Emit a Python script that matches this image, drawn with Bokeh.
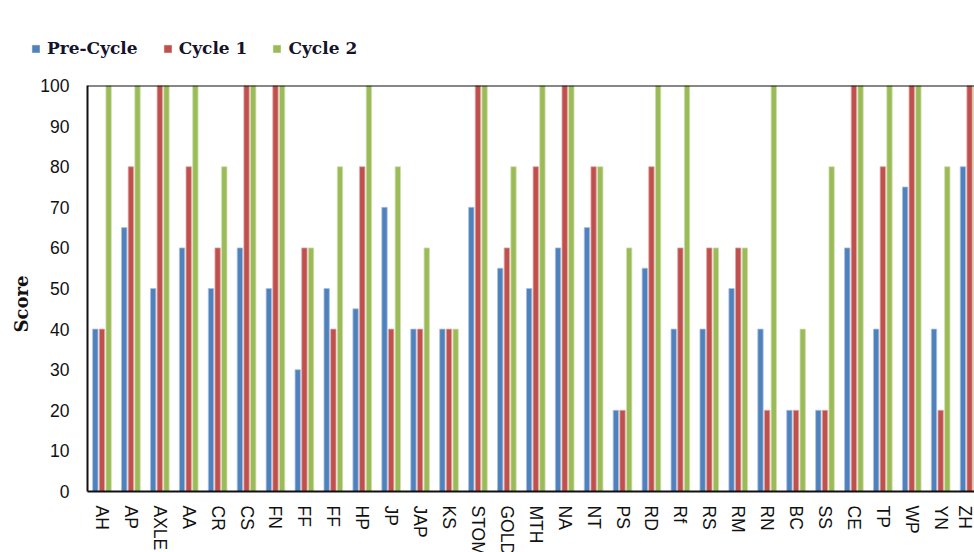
from bokeh.plotting import figure
from bokeh.layouts import column, row
from bokeh.models import Range1d, FixedTicker, Legend, LegendItem, Span, ColumnDataSource, Title
from bokeh.transform import dodge
from bokeh.embed import file_html
from bokeh.resources import INLINE

categories = ["AH", "AP", "AXLE", "AA", "CR", "CS", "FN", "FF", "FF", "HP",
              "JP", "JAP", "KS", "STOM", "GOLD", "MTH", "NA", "NT", "PS", "RD",
              "Rf", "RS", "RM", "RN", "BC", "SS", "CE", "TP", "WP", "YN", "ZH"]
pre_cycle = [40, 65, 50, 60, 50, 60, 50, 30, 50, 45,
             70, 40, 40, 70, 55, 50, 60, 65, 20, 55,
             40, 40, 50, 40, 20, 20, 60, 40, 75, 40, 80]
cycle_1 = [40, 80, 100, 80, 60, 100, 100, 60, 40, 80,
           40, 40, 40, 100, 60, 80, 100, 80, 20, 80,
           60, 60, 60, 20, 20, 20, 100, 80, 100, 20, 100]
cycle_2 = [100, 100, 100, 100, 80, 100, 100, 60, 80, 100,
           80, 60, 40, 100, 80, 100, 100, 80, 60, 100,
           100, 60, 60, 100, 40, 80, 100, 100, 100, 80, 100]
y_ticks = [0, 10, 20, 30, 40, 50, 60, 70, 80, 90, 100]
series_names = ["Pre-Cycle", "Cycle 1", "Cycle 2"]
axis_title = "Score"

fills = ["#4F81BD", "#C0504D", "#9BBB59"]
edges = ["#a9c2e0", "#e0a8a6", "#cfe0ad"]
cols = ["pre", "c1", "c2"]
offsets = [-0.23, 0.0, 0.23]

idx = list(range(len(categories)))
source = ColumnDataSource(dict(x=idx, pre=pre_cycle, c1=cycle_1, c2=cycle_2))

# ---- legend strip (top) ----
lg = figure(width=974, height=75, min_border=0, min_border_top=7,
            x_range=Range1d(0, 1), y_range=Range1d(0, 1),
            x_axis_location=None, y_axis_location=None,
            output_backend="svg", toolbar_location=None)
lg.outline_line_color = None
lg.xgrid.visible = False
lg.ygrid.visible = False
# legend-only swatch renderers (single entry placed outside the visible range)
swatch = ColumnDataSource(dict(x=[-5], top=[0]))
lg_renderers = []
for fc in fills:
    lg_renderers.append(lg.vbar(x="x", top="top", width=0.1, source=swatch,
                                fill_color=fc, line_color=fc, line_width=0.5))
legend = Legend(items=[LegendItem(label=n, renderers=[r]) for n, r in zip(series_names, lg_renderers)],
                orientation="horizontal", location="top_left",
                label_text_font="DejaVu Serif", label_text_font_style="bold",
                label_text_font_size="17px", label_text_color="#15132a",
                glyph_width=9, glyph_height=9, label_standoff=7, spacing=25,
                padding=0, margin=31, border_line_color=None, background_fill_alpha=0)
lg.add_layout(legend)

# ---- main chart ----
p = figure(frame_width=887, frame_height=406,
           min_border_left=87, min_border_top=10, min_border_right=0, min_border_bottom=61,
           x_range=Range1d(-0.5, 30.17), y_range=Range1d(0, 100),
           output_backend="svg", toolbar_location=None)
p.outline_line_color = None
p.xgrid.visible = False
p.ygrid.visible = False
p.background_fill_color = "white"

for col, off, fc, lc in zip(cols, offsets, fills, edges):
    p.vbar(x=dodge("x", off, range=p.x_range), top=col, bottom=0, width=0.185,
           source=source, fill_color=fc, line_color=lc, line_width=0.8)

p.add_layout(Span(location=100, dimension="width", line_color="#111111", line_width=2))

# x axis
p.xaxis.ticker = FixedTicker(ticks=idx)
p.xaxis.major_label_overrides = {i: c for i, c in zip(idx, categories)}
p.xaxis.major_label_orientation = "vertical"
p.xaxis.major_tick_line_color = None
p.xaxis.minor_tick_line_color = None
p.xaxis.major_tick_out = 0
p.xaxis.major_tick_in = 0
p.xaxis.major_label_standoff = 14
p.xaxis.axis_line_color = "#111111"
p.xaxis.axis_line_width = 2
p.xaxis.major_label_text_font = "Liberation Sans"
p.xaxis.major_label_text_font_size = "17.5px"
p.xaxis.major_label_text_color = "#111111"

# y axis
p.yaxis.ticker = FixedTicker(ticks=y_ticks)
p.yaxis.major_tick_line_color = None
p.yaxis.minor_tick_line_color = None
p.yaxis.major_tick_out = 0
p.yaxis.major_tick_in = 0
p.yaxis.major_label_standoff = 18
p.yaxis.axis_line_color = "#111111"
p.yaxis.axis_line_width = 2
p.yaxis.major_label_text_font = "Liberation Sans"
p.yaxis.major_label_text_font_size = "17.5px"
p.yaxis.major_label_text_color = "#111111"

p.add_layout(Title(text=axis_title, align="left", offset=159, standoff=12,
                   text_font="DejaVu Serif", text_font_style="bold",
                   text_font_size="18px", text_color="#111111"), "left")

layout = column(row(lg), p, spacing=0)
open("out.html", "w").write(file_html(layout, INLINE))
